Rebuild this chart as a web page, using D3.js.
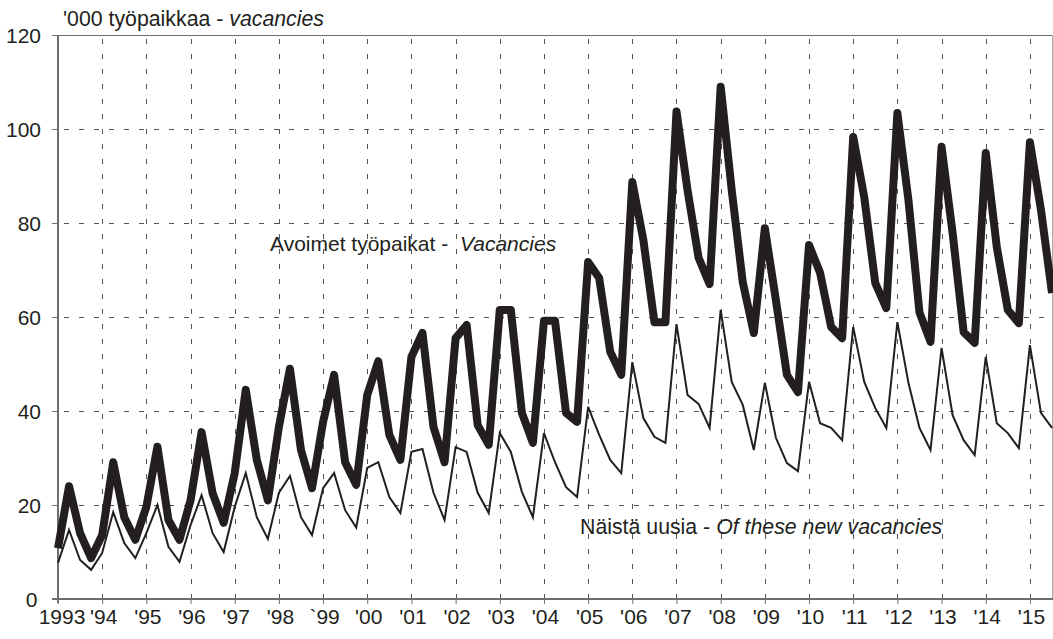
<!DOCTYPE html>
<html>
<head>
<meta charset="utf-8">
<script src="https://cdn.jsdelivr.net/npm/d3@7"></script>
<style>
  html, body { margin: 0; padding: 0; background: #fff; }
  svg { display: block; font-family: "Liberation Sans", Arial, Helvetica, sans-serif; }
</style>
</head>
<body>
<svg id="chart" width="1053" height="639"></svg>
<script>
// Quarterly data 1993Q1 .. 2015Q3, thousands of vacancies
const startYear = 1993;
const vacancies = [
  10.8, 24, 14, 8.7,      // 1993
  13.6, 29.1, 17.4, 12.6, // 1994
  19.6, 32.4, 16.8, 12.6, // 1995
  21, 35.5, 22.5, 16.2,   // 1996
  26.8, 44.5, 29.6, 21,   // 1997
  36.6, 49, 31.7, 23.6,   // 1998
  37.7, 47.7, 29.1, 24.3, // 1999
  43.4, 50.6, 34.9, 29.6, // 2000
  51.5, 56.6, 36.6, 29.1, // 2001
  55.5, 58.3, 37, 32.8,   // 2002
  61.5, 61.5, 39.6, 33.2, // 2003
  59.2, 59.2, 39.6, 37.7, // 2004
  71.7, 68.3, 52.6, 47.7, // 2005
  88.7, 76.4, 58.9, 58.9, // 2006
  103.7, 87, 72.6, 67,    // 2007
  109, 87, 67.4, 56.6,    // 2008
  78.9, 63.6, 47.7, 44,   // 2009
  75.3, 69.4, 57.9, 55.5, // 2010
  98.3, 85.5, 67.2, 61.9, // 2011
  103.4, 84.9, 61, 54.7,  // 2012
  96.2, 77.9, 56.8, 54.5, // 2013
  94.9, 74.9, 61.5, 58.7, // 2014
  97.2, 82.8, 65.1        // 2015
];
const newVacancies = [
  7.7, 14.7, 8.3, 6.2,    // 1993
  9.8, 18.5, 11.9, 8.7,   // 1994
  14, 20, 11.1, 7.9,      // 1995
  15.7, 22.1, 14, 10,     // 1996
  19.6, 26.8, 17.4, 12.8, // 1997
  22.6, 26.2, 17.4, 13.6, // 1998
  23.6, 26.8, 18.9, 15.2, // 1999
  27.9, 29.1, 21.7, 18.3, // 2000
  31.3, 31.9, 22.6, 16.8, // 2001
  32.3, 31.3, 22.6, 18.3, // 2002
  35.3, 31.3, 22.8, 17.4, // 2003
  35.3, 29.1, 23.8, 21.7, // 2004
  40.9, 34.9, 29.6, 26.8, // 2005
  50.4, 38.5, 34.5, 33.2, // 2006
  58.5, 43.4, 41.5, 36.4, // 2007
  61.5, 46.2, 41.3, 31.7, // 2008
  46, 34.3, 28.9, 27.2,   // 2009
  46.2, 37.4, 36.4, 33.8, // 2010
  57.9, 46.2, 40.6, 36.4, // 2011
  58.9, 46, 36.4, 31.7,   // 2012
  53.4, 39.1, 33.8, 30.6, // 2013
  51.5, 37.4, 35.3, 32.1, // 2014
  54, 39.6, 36.4          // 2015
];
const tickYears = d3.range(1993, 2016);
const tickLabels = ["1993","'94","'95","'96","'97","'98","`99","'00","'01","'02","'03","'04","'05","'06","'07","'08","'09","'10","'11","'12","'13","'14","'15"];
const yTicks = [0, 20, 40, 60, 80, 100, 120];

const svg = d3.select("#chart");
const ink = "#231f20";
const axisGray = "#6d6e71";
const gridGray = "#555";
const fs = 21;

const x = d3.scaleLinear().domain([1993, 2015.5]).range([58, 1052]);
const y = d3.scaleLinear().domain([0, 120]).range([599, 35]);

const tOf = i => startYear + i / 4;

// gridlines
const grid = svg.append("g");
grid.selectAll("line.h").data(yTicks.filter(v => v > 0 && v < 120)).enter().append("line")
  .attr("x1", 58).attr("x2", 1053)
  .attr("y1", d => y(d) + 0.5).attr("y2", d => y(d) + 0.5)
  .attr("stroke", gridGray).attr("stroke-width", 1).attr("stroke-dasharray", "5,10")
  .attr("stroke-dashoffset", -6);
grid.selectAll("line.v").data(tickYears.filter(v => v > 1993)).enter().append("line")
  .attr("x1", d => Math.round(x(d)) + 0.5).attr("x2", d => Math.round(x(d)) + 0.5)
  .attr("y1", y(120) + 4).attr("y2", y(0))
  .attr("stroke", gridGray).attr("stroke-width", 1).attr("stroke-dasharray", "5,10");

// top border line at 120 and right edge
svg.append("line").attr("x1", 52).attr("x2", 1053)
  .attr("y1", y(120) + 0.5).attr("y2", y(120) + 0.5)
  .attr("stroke", axisGray).attr("stroke-width", 1);
svg.append("line").attr("x1", 1052.5).attr("x2", 1052.5)
  .attr("y1", y(120)).attr("y2", y(0))
  .attr("stroke", "#aaa").attr("stroke-width", 1);

// axes
const yAxis = d3.axisLeft(y).tickValues(yTicks).tickSize(6).tickFormat(d3.format("d"));
const gy = svg.append("g").attr("transform", "translate(58,0)").call(yAxis);
gy.select(".domain").attr("stroke", axisGray).attr("stroke-width", 2).attr("d", `M0,${y(120)}V${y(0) + 4}`);
gy.selectAll(".tick line").attr("stroke", axisGray).attr("stroke-width", 1);
gy.selectAll(".tick text").attr("font-size", fs).attr("fill", ink)
  .attr("font-family", "Liberation Sans, Arial, sans-serif")
  .attr("x", d => d === 0 ? -20.5 : -17).attr("dy", "0.34em");

const xAxis = d3.axisBottom(x).tickValues(tickYears).tickSize(5).tickFormat((d, i) => tickLabels[i]);
const gx = svg.append("g").attr("transform", `translate(0,${y(0)})`).call(xAxis);
gx.select(".domain").attr("stroke", axisGray).attr("stroke-width", 2).attr("d", `M52,0H1053`);
gx.selectAll(".tick line").attr("stroke", axisGray).attr("stroke-width", 1);
gx.selectAll(".tick text").attr("font-size", fs).attr("fill", ink)
  .attr("font-family", "Liberation Sans, Arial, sans-serif").attr("y", 10).attr("dy", "0.7em")
  .attr("dx", (d, i) => i === 0 ? 3.5 : 1);

// lines
const line = d3.line().x((d, i) => x(tOf(i))).y(d => y(d));
svg.append("path").datum(newVacancies).attr("d", line)
  .attr("fill", "none").attr("stroke", ink).attr("stroke-width", 2).attr("stroke-linejoin", "miter");
svg.append("path").datum(vacancies).attr("d", line)
  .attr("fill", "none").attr("stroke", ink).attr("stroke-width", 8).attr("stroke-linejoin", "round");

// texts
const title = svg.append("text").attr("x", 63).attr("y", 26).attr("font-size", 21.3).attr("fill", ink);
title.append("tspan").text("'000 työpaikkaa - ");
title.append("tspan").attr("font-style", "italic").text("vacancies");

const lab1 = svg.append("text").attr("x", 270).attr("y", 251).attr("font-size", fs).attr("fill", ink);
lab1.append("tspan").text("Avoimet työpaikat - ");
lab1.append("tspan").attr("dx", 6).attr("font-style", "italic").text("Vacancies");

const lab2 = svg.append("text").attr("x", 580).attr("y", 534).attr("font-size", 21.3).attr("fill", ink);
lab2.append("tspan").text("Näistä uusia - ");
lab2.append("tspan").attr("font-style", "italic").text("Of these new vacancies");
</script>
</body>
</html>
